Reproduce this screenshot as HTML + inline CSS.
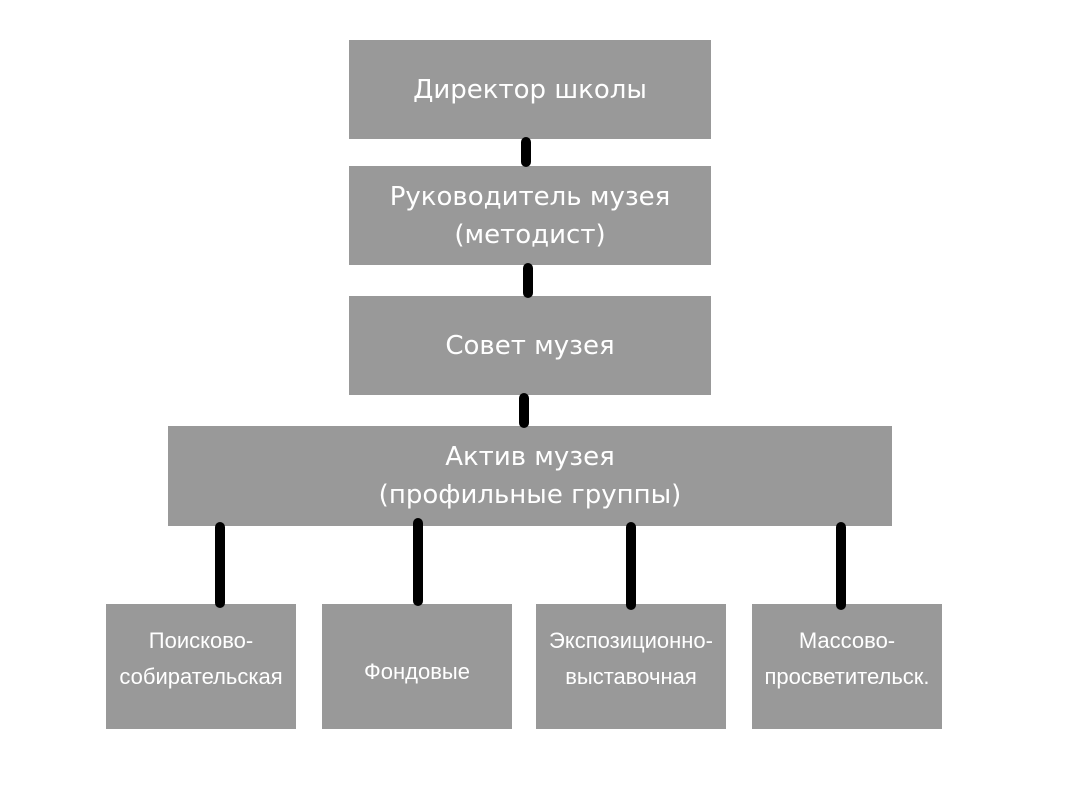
<!DOCTYPE html>
<html><head><meta charset="utf-8"><style>
body{margin:0;width:1073px;height:800px;background:#fff;position:relative;overflow:hidden;font-family:"DejaVu Sans","Liberation Sans",sans-serif;}
.b{position:absolute;background:#999999;color:#fff;display:flex;align-items:center;justify-content:center;text-align:center;box-sizing:border-box;}
.big{font-size:26px;line-height:38px;}
.sm{font-family:"Liberation Sans",sans-serif;font-size:22px;line-height:36px;padding-bottom:16px;}
.l{position:absolute;width:10px;background:#000;border-radius:5px;}
</style></head><body>
<div class="b big" style="left:349px;top:40px;width:362px;height:99px;">Директор школы</div>
<div class="b big" style="left:349px;top:166px;width:362px;height:99px;">Руководитель музея<br>(методист)</div>
<div class="b big" style="left:349px;top:296px;width:362px;height:99px;">Совет музея</div>
<div class="b big" style="left:168px;top:426px;width:724px;height:100px;">Актив музея<br>(профильные группы)</div>
<div class="b sm" style="left:106px;top:604px;width:190px;height:125px;">Поисково-<br>собирательская</div>
<div class="b sm" style="left:322px;top:604px;width:190px;height:125px;padding-bottom:0;padding-top:10px;">Фондовые</div>
<div class="b sm" style="left:536px;top:604px;width:190px;height:125px;">Экспозиционно-<br>выставочная</div>
<div class="b sm" style="left:752px;top:604px;width:190px;height:125px;">Массово-<br>просветительск.</div>
<div class="l" style="left:521px;top:137px;height:30px;"></div>
<div class="l" style="left:523px;top:263px;height:35px;"></div>
<div class="l" style="left:519px;top:393px;height:35px;"></div>
<div class="l" style="left:215px;top:522px;height:86px;"></div>
<div class="l" style="left:413px;top:518px;height:88px;"></div>
<div class="l" style="left:626px;top:522px;height:88px;"></div>
<div class="l" style="left:836px;top:522px;height:88px;"></div>
</body></html>
